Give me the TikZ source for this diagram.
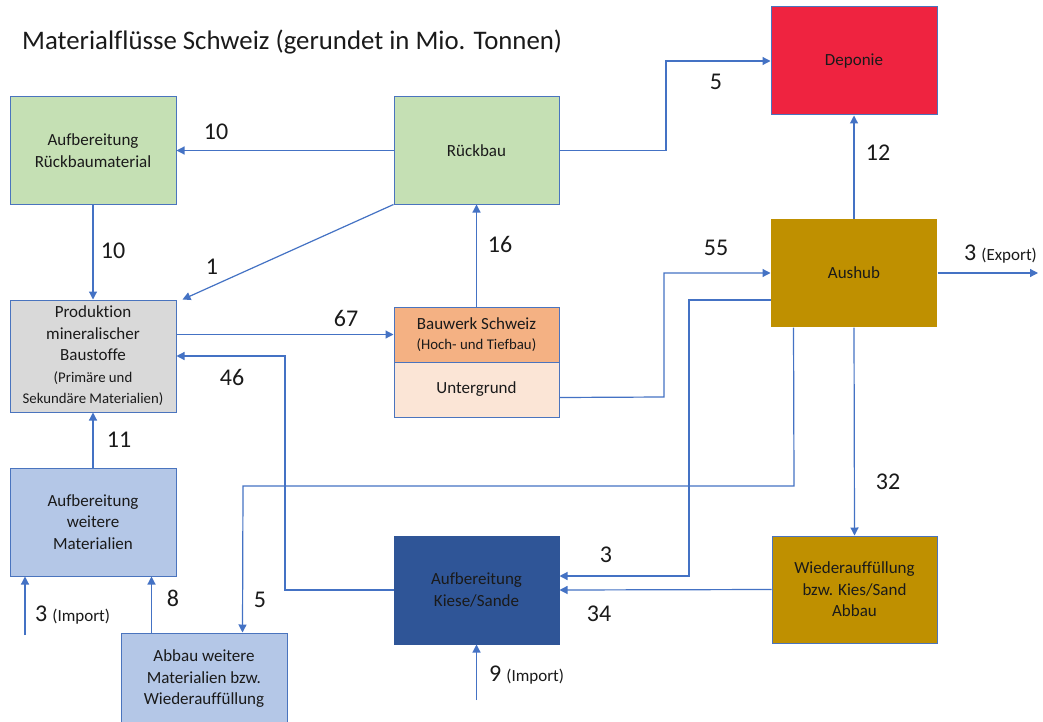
\documentclass[tikz,border=0pt]{standalone}
\usepackage{fontspec}
\setmainfont{Carlito}[Ligatures={NoCommon}]
\usetikzlibrary{arrows.meta,calc}
\definecolor{lineblue}{HTML}{4472C4}
\definecolor{bord}{HTML}{4A74BE}
\definecolor{greenbox}{HTML}{C5E0B4}
\definecolor{redbox}{HTML}{EF2340}
\definecolor{goldbox}{HTML}{BF9000}
\definecolor{graybox}{HTML}{D9D9D9}
\definecolor{orangebox}{HTML}{F4B183}
\definecolor{peachbox}{HTML}{FBE5D6}
\definecolor{lightblue}{HTML}{B4C7E7}
\definecolor{darkblue}{HTML}{2F5597}
\definecolor{txt}{HTML}{1A1A1A}
\newcommand{\boxfont}{\fontsize{17}{21.5}\selectfont}
\newcommand{\smallfnt}{\fontsize{14.8}{19}\selectfont}
\newcommand{\numfnt}{\fontsize{24}{28}\selectfont}
\newcommand{\tagfnt}{\fontsize{17}{18}\selectfont}
\begin{document}
\begin{tikzpicture}[x=1pt,y=-1pt,
  boxnode/.style={draw=bord, line width=1pt, align=center, inner sep=2pt, text=txt, font=\boxfont},
  wide/.style={minimum width=166pt, minimum height=108pt},
  flow/.style={draw=lineblue, line width=1.2pt, -{Triangle[length=8pt,width=8pt]}},
  num/.style={font=\numfnt, inner sep=0pt, text=txt},
  tag/.style={font=\tagfnt, inner sep=0pt, text=txt}]
\path[use as bounding box, fill=white] (0,0) rectangle (1043,722);

\node[anchor=base west, inner sep=0pt, font=\fontsize{26.8}{30}\selectfont, text=txt] (title) at (22,50) {Materialflüsse Schweiz (gerundet in Mio. Tonnen)};

% boxes
\node[boxnode, wide, fill=greenbox, minimum height=107pt] (a1) at (93,150.5) {Aufbereitung\\Rückbaumaterial};
\node[boxnode, wide, fill=greenbox, minimum width=165pt, minimum height=107pt] (rueck) at (476.5,150.5) {Rückbau};
\node[boxnode, wide, fill=redbox] (dep) at (854,61) {Deponie};
\node[boxnode, wide, fill=goldbox, draw=none] (aush) at (854,273) {Aushub};
\node[boxnode, wide, fill=graybox, minimum height=112pt] (prod) at (93,356) {Produktion\\mineralischer\\Baustoffe\\{\smallfnt (Primäre und}\\{\smallfnt Sekundäre Materialien)}};
\node[boxnode, fill=orangebox, minimum width=165pt, minimum height=55pt] (bau) at (476.5,334.5) {Bauwerk Schweiz\\[-2pt]{\smallfnt (Hoch- und Tiefbau)}};
\node[boxnode, fill=peachbox, minimum width=165pt, minimum height=55pt] (unter) at (476.5,389.5) {Untergrund};
\node[boxnode, wide, fill=lightblue] (awm) at (93,522) {Aufbereitung\\weitere\\Materialien};
\node[boxnode, wide, fill=lightblue, minimum height=92pt] (abbau) at (204,679) {Abbau weitere\\Materialien bzw.\\Wiederauffüllung};
\node[boxnode, wide, fill=darkblue, minimum width=165pt, draw=darkblue] (kies) at (476.5,590) {Aufbereitung\\Kiese/Sande};
\node[boxnode, wide, fill=goldbox, minimum width=165pt, minimum height=107pt] (wied) at (854.5,589.5) {Wiederauffüllung\\bzw. Kies/Sand\\Abbau};

% free ends
\coordinate (exp) at (1038,273);
\coordinate (imp1) at (25,635);
\coordinate (imp2) at (476.5,700);
\coordinate (abx) at ($(abbau.north west)+(31,0)$);

% connectors
\draw[flow] (rueck.west) -- (a1.east);
\draw[flow] (a1.south) -- (prod.north);
\draw[flow] (rueck.south west) -- ($(prod.north east)+(6,0)$);
\draw[flow] (bau.north) -- (rueck.south);
\draw[flow] (rueck.east) -- (666,150.5) |- (dep.west);
\draw[flow] (aush.north) -- (dep.south);
\draw[flow] (aush.east) -- (exp);
\draw[flow] ($(unter.south east)+(0,-20)$) -- (664,397) |- (aush.west);
\draw[flow] (prod.east |- bau.west) -- (bau.west);
\draw[flow] (kies.west) -- (285,590) |- (prod.east);
\draw[flow] (awm.north) -- (prod.south);
\draw[flow] (imp1) -- (imp1 |- awm.south);
\draw[flow] (abx) -- (abx |- awm.south);
\draw[flow] (imp2) -- (kies.south);
\draw[flow] (aush.south) -- (wied.north);
\draw[flow] (wied.west) -- (kies.east);
\draw[flow] ($(aush.west)+(0,27)$) -- (689,300) -- (689,576) -- ($(kies.east)+(0,-14)$);
\draw[flow] ($(aush.south west)+(23,0)$) -- (794,486) -- (243,486) -- ($(abbau.north west)+(122,0)$);

% labels
\node[num] (l1) at (216,132) {10};
\node[num] (l2) at (113,251) {10};
\node[num] (l3) at (212,267) {1};
\node[num] (l4) at (500,244) {16};
\node[num] (l5) at (716,82) {5};
\node[num] (l6) at (878,153) {12};
\node[num, anchor=base west] (l7) at (964,260) {3\hspace{5pt}{\tagfnt (Export)}};
\node[num] (l8) at (716,248) {55};
\node[num] (l9) at (346,318) {67};
\node[num] (l10) at (232,377) {46};
\node[num] (l11) at (119,440) {11};
\node[num, anchor=base west] (l12) at (35,621) {3\hspace{5pt}{\tagfnt (Import)}};
\node[num] (l13) at (173,598) {8};
\node[num] (l14) at (260,600) {5};
\node[num] (l15) at (606,555) {3};
\node[num] (l16) at (599,614) {34};
\node[num] (l17) at (888,482) {32};
\node[num, anchor=base west] (l18) at (489,681) {9\hspace{5pt}{\tagfnt (Import)}};
\end{tikzpicture}
\end{document}
